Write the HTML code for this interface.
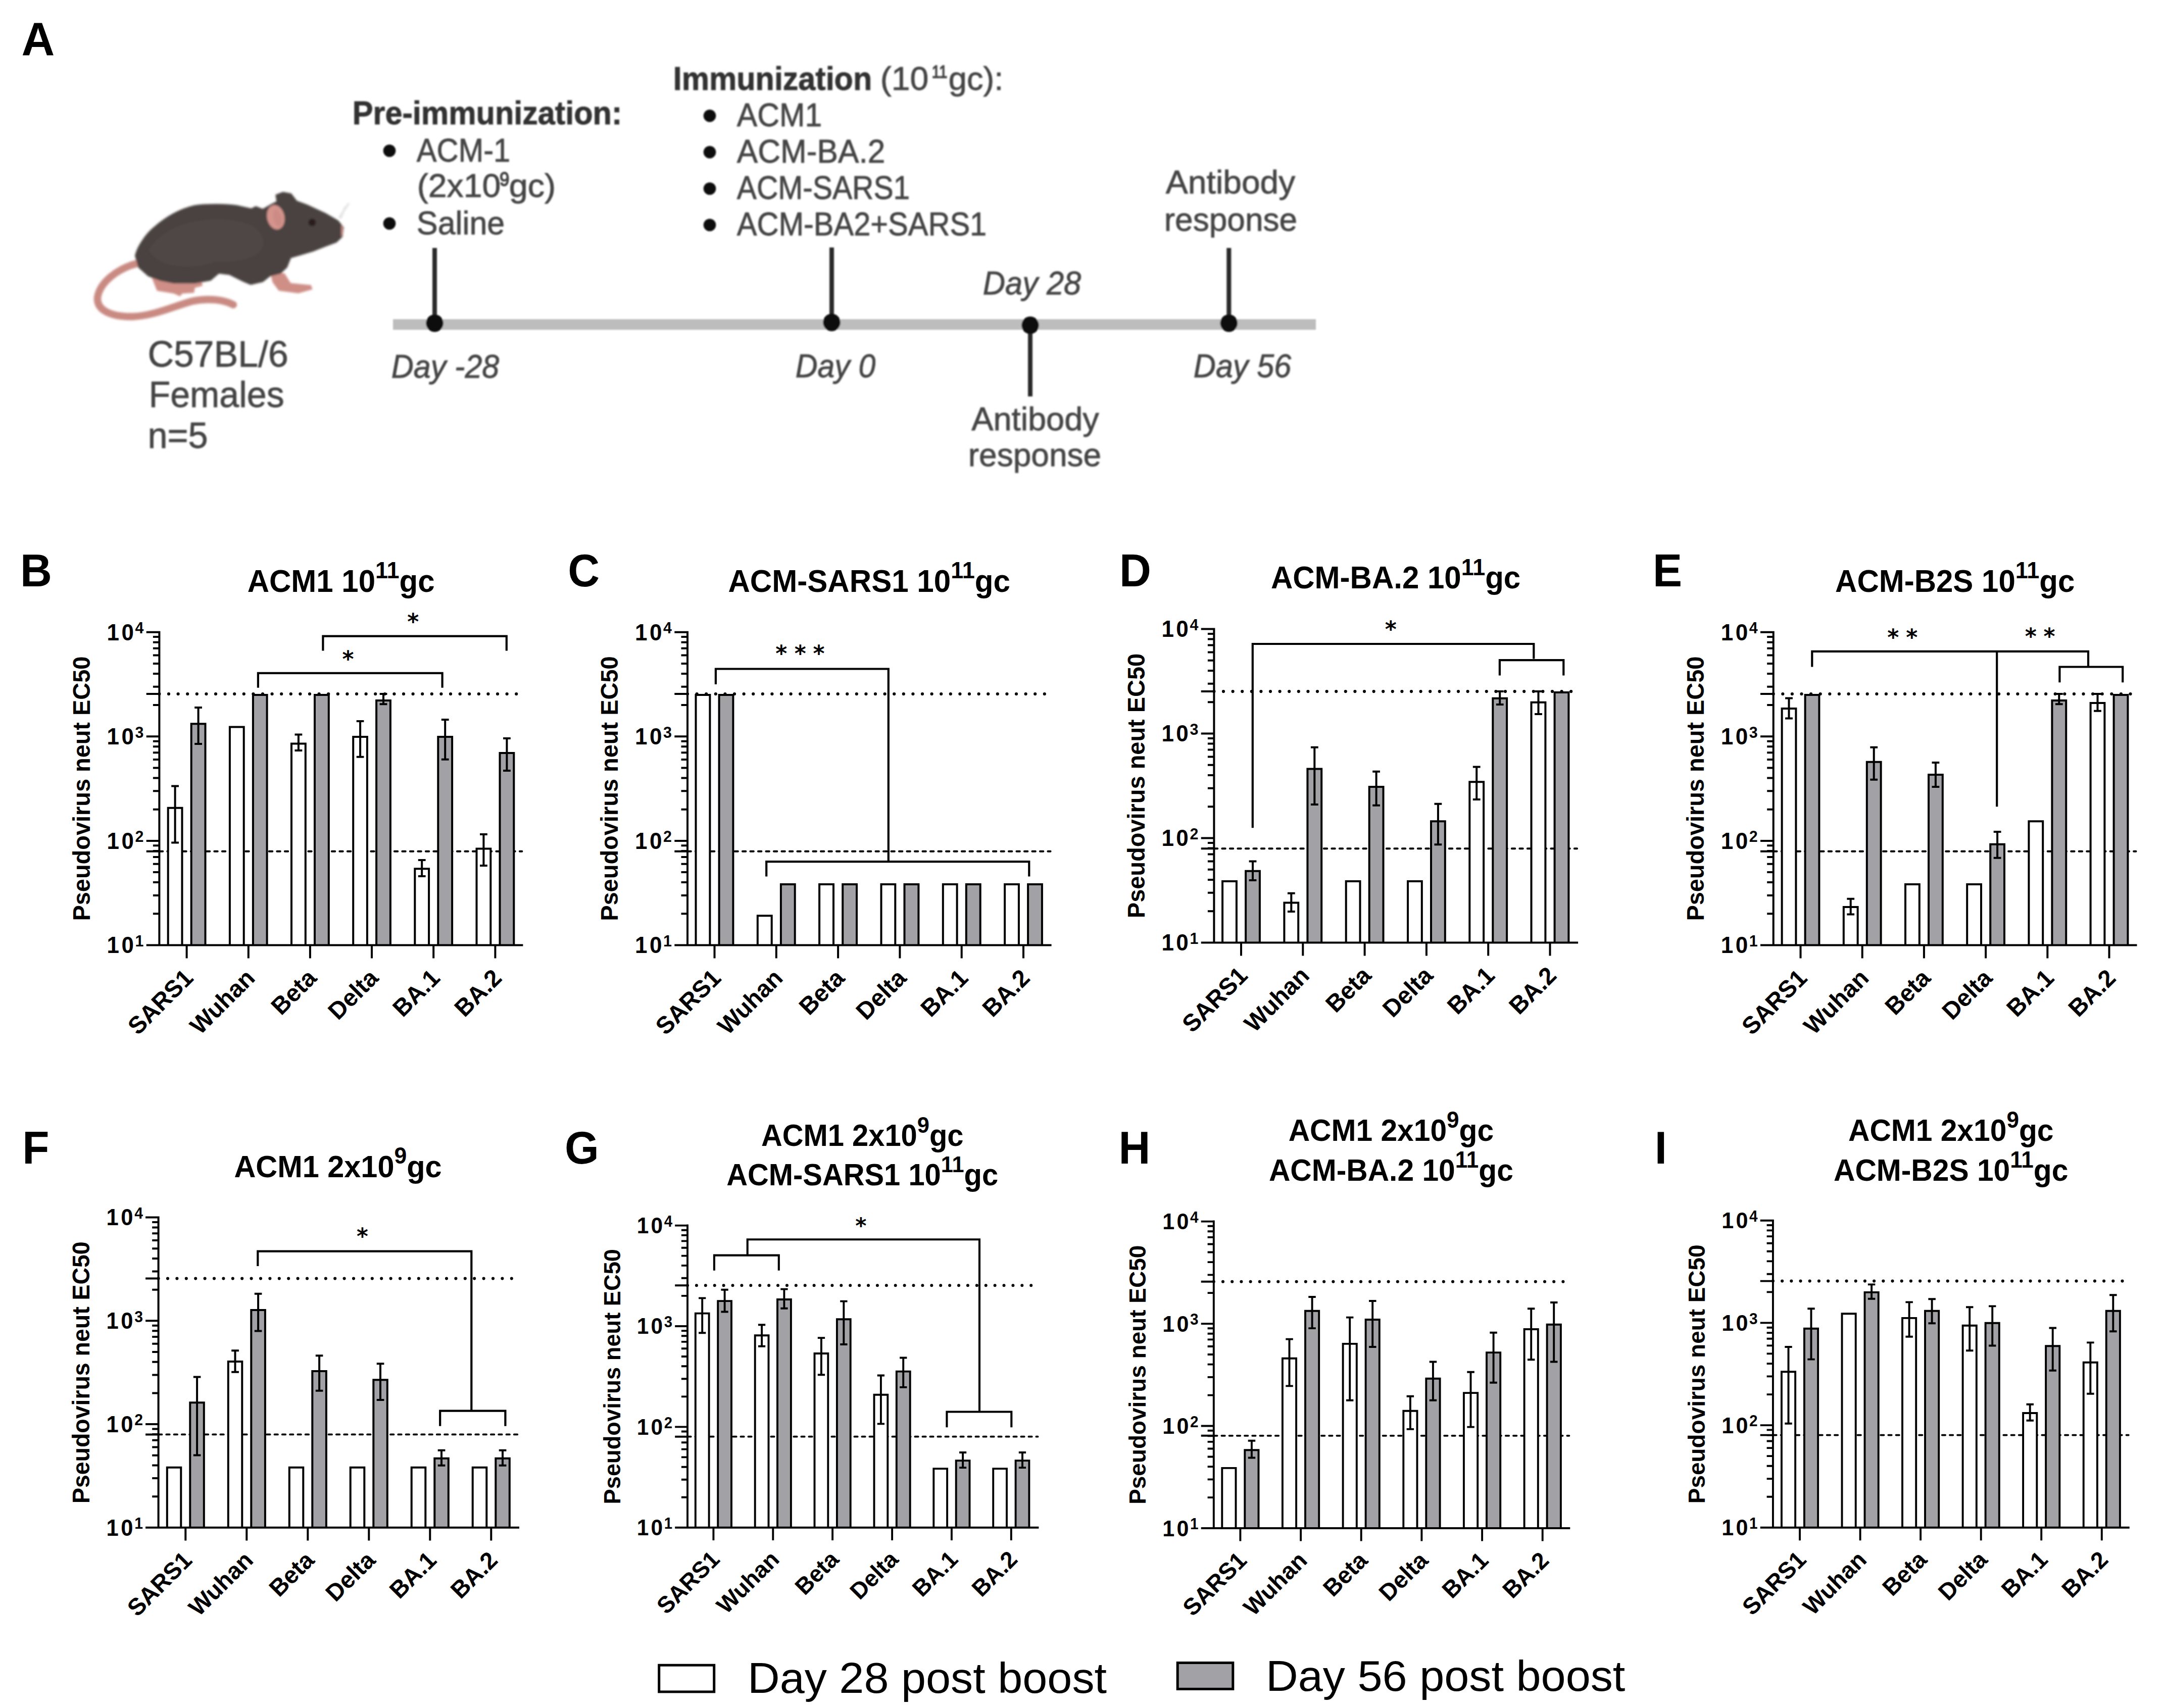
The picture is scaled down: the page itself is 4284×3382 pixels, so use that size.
<!DOCTYPE html>
<html><head><meta charset="utf-8"><title>Figure</title>
<style>html,body{margin:0;padding:0;background:#fff}svg{display:block}</style>
</head><body>
<svg width="4284" height="3382" viewBox="0 0 4284 3382" font-family="'Liberation Sans', Arial, Helvetica, sans-serif" fill="#000">
<rect width="4284" height="3382" fill="#fff"/>
<defs>
<filter id="blur1" x="-5%" y="-5%" width="110%" height="110%"><feGaussianBlur stdDeviation="7"/></filter>
<filter id="blur2" x="-5%" y="-20%" width="110%" height="140%"><feGaussianBlur stdDeviation="1.4"/></filter>
</defs>
<text transform="translate(42.5 109.3) scale(0.99 1)" font-size="92" font-weight="bold">A</text>
<!-- mouse -->
<g transform="translate(150 340) scale(0.27724)" filter="url(#blur1)">
<path d="M440 655 C300 690 170 790 155 900 C150 990 250 1035 400 1035 C560 1030 700 960 830 925 C950 900 1060 915 1125 950" fill="none" stroke="#c98a82" stroke-width="52" stroke-linecap="round"/>
<path d="M540 750 L900 780 L905 815 L850 830 L845 865 L760 870 L745 890 L700 870 L580 850 Z" fill="#cf8f87"/>
<path d="M1390 725 L1490 725 L1535 795 L1680 810 L1690 840 L1590 868 L1450 850 L1405 790 Z" fill="#cf8f87"/>
<path d="M428 600 C440 540 500 450 560 400 C640 330 740 270 850 245 C950 232 1080 235 1150 245 L1255 268 L1285 252 L1335 272 L1400 235 L1440 215 L1432 168 L1480 150 L1535 160 L1575 212 L1650 240 L1780 300 L1870 352 L1908 400 L1900 462 L1860 500 L1780 530 L1700 562 L1600 592 L1532 612 L1505 680 L1462 722 L1385 742 L1335 782 L1250 802 L1200 782 L1100 732 L1020 722 L962 772 L850 792 L700 792 L600 772 L520 742 L452 682 Z" fill="#4a4240" stroke="#4a4240" stroke-width="12" stroke-linejoin="round"/>
<path d="M520 560 C600 420 800 330 1050 340 C1250 350 1350 420 1340 520 C1320 620 1150 650 1000 640 C850 700 600 700 520 560Z" fill="#504744"/>
<ellipse cx="1428" cy="325" rx="62" ry="88" transform="rotate(-12 1428 325)" fill="#d4948d"/>
<ellipse cx="1440" cy="330" rx="30" ry="62" transform="rotate(-12 1440 330)" fill="#cc8c85"/>
<circle cx="1688" cy="362" r="27" fill="#2b1c1c"/>
<path d="M1895 380 C1915 395 1915 440 1895 470 Z" fill="#c98a82"/>
<path d="M1880 330 L1950 225 M1890 335 L1925 250" stroke="#e4e2e2" stroke-width="14" fill="none"/>
</g>

<g fill="#454545" stroke="#454545" stroke-width="0.9" filter="url(#blur2)">
<text x="292.4" y="726" font-size="73" textLength="278.3" lengthAdjust="spacingAndGlyphs">C57BL/6</text>
<text x="294.4" y="806" font-size="73" textLength="268.3" lengthAdjust="spacingAndGlyphs">Females</text>
<text x="292.4" y="886.5" font-size="73" textLength="119.3" lengthAdjust="spacingAndGlyphs">n=5</text>
</g>
<g filter="url(#blur2)">
<rect x="778" y="632" width="1827" height="21" fill="#bdbdbd"/>
<path d="M860.5 491V640M1646.5 490V638M2039.5 644V785M2432.8 491V640" stroke="#2a2a2a" stroke-width="9" fill="none"/>
<g fill="#0a0a0a">
<circle cx="860.5" cy="640" r="17.3"/><circle cx="1646.5" cy="638.5" r="17.3"/><circle cx="2039.5" cy="644" r="17.3"/><circle cx="2432.8" cy="640" r="17.3"/>
<circle cx="771" cy="298.5" r="12.3"/><circle cx="771" cy="442.5" r="12.3"/>
<circle cx="1405" cy="229.2" r="12.3"/><circle cx="1405" cy="301.3" r="12.3"/><circle cx="1405" cy="373.5" r="12.3"/><circle cx="1405" cy="445.5" r="12.3"/>
</g>
</g>
<g fill="#454545" stroke="#454545" stroke-width="0.9" filter="url(#blur2)">
<text x="697.8" y="246" font-size="64.5" textLength="533.5" lengthAdjust="spacingAndGlyphs" font-weight="bold" fill="#303030" stroke="#303030">Pre-immunization:</text>
<text x="824.8" y="320" font-size="64.5" textLength="185.4" lengthAdjust="spacingAndGlyphs">ACM-1</text>
<text x="825.8" y="389.5" font-size="64.5" textLength="165.4" lengthAdjust="spacingAndGlyphs">(2x10</text>
<text x="989.1" y="367.5" font-size="38" textLength="19.3" lengthAdjust="spacingAndGlyphs" stroke-width="1.8">9</text>
<text x="1007.8" y="389.5" font-size="64.5" textLength="92.5" lengthAdjust="spacingAndGlyphs">gc)</text>
<text x="824.8" y="463.5" font-size="64.5" textLength="174.4" lengthAdjust="spacingAndGlyphs">Saline</text>
<text x="1332.8" y="178" font-size="64.5" textLength="393.4" lengthAdjust="spacingAndGlyphs" font-weight="bold" fill="#303030" stroke="#303030">Immunization</text>
<text x="1742.8" y="178" font-size="64.5" textLength="95.5" lengthAdjust="spacingAndGlyphs">(10</text>
<text x="1844.8" y="154" font-size="35" textLength="30.5" lengthAdjust="spacingAndGlyphs" stroke-width="1.8">11</text>
<text x="1877.8" y="178" font-size="64.5" textLength="108.5" lengthAdjust="spacingAndGlyphs">gc):</text>
<text x="1458.8" y="249.7" font-size="64.5" textLength="168.4" lengthAdjust="spacingAndGlyphs">ACM1</text>
<text x="1458.8" y="321.5" font-size="64.5" textLength="293.4" lengthAdjust="spacingAndGlyphs">ACM-BA.2</text>
<text x="1458.8" y="393.5" font-size="64.5" textLength="342.4" lengthAdjust="spacingAndGlyphs">ACM-SARS1</text>
<text x="1458.8" y="466" font-size="64.5" textLength="494.4" lengthAdjust="spacingAndGlyphs">ACM-BA2+SARS1</text>
<text x="2307.8" y="383" font-size="64.5" textLength="256.4" lengthAdjust="spacingAndGlyphs">Antibody</text>
<text x="2304.8" y="457" font-size="64.5" textLength="263.4" lengthAdjust="spacingAndGlyphs">response</text>
<text x="1923.3" y="852" font-size="64.5" textLength="252.4" lengthAdjust="spacingAndGlyphs">Antibody</text>
<text x="1916.8" y="923" font-size="64.5" textLength="263.4" lengthAdjust="spacingAndGlyphs">response</text>
<text x="774.8" y="748" font-size="64.5" textLength="213.4" lengthAdjust="spacingAndGlyphs" font-style="italic">Day -28</text>
<text x="1574.8" y="747" font-size="64.5" textLength="158.4" lengthAdjust="spacingAndGlyphs" font-style="italic">Day 0</text>
<text x="1945.8" y="583" font-size="64.5" textLength="194.4" lengthAdjust="spacingAndGlyphs" font-style="italic">Day 28</text>
<text x="2362.8" y="747" font-size="64.5" textLength="193.4" lengthAdjust="spacingAndGlyphs" font-style="italic">Day 56</text>
</g>
<g font-weight="bold">
<line x1="315.4" y1="1374" x2="1035.4" y2="1374" stroke="#000" stroke-width="6.2" stroke-linecap="round" stroke-dasharray="0 18.6"/>
<line x1="315.8" y1="1685.8" x2="1033.4" y2="1685.8" stroke="#000" stroke-width="3.9" stroke-linecap="round" stroke-dasharray="6.5 9"/>
<path d="M332.7 1871.4V1599.8H360.5V1871.4" fill="#fff" stroke="#000" stroke-width="4"/>
<path d="M378.7 1871.4V1433.2H406.5V1871.4" fill="#a2a1a6" stroke="#000" stroke-width="4"/>
<path d="M454.9 1871.4V1439.4H482.7V1871.4" fill="#fff" stroke="#000" stroke-width="4"/>
<path d="M500.9 1871.4V1376H528.6V1871.4" fill="#a2a1a6" stroke="#000" stroke-width="4"/>
<path d="M577 1871.4V1472.6H604.8V1871.4" fill="#fff" stroke="#000" stroke-width="4"/>
<path d="M623 1871.4V1376H650.8V1871.4" fill="#a2a1a6" stroke="#000" stroke-width="4"/>
<path d="M699.2 1871.4V1459H726.9V1871.4" fill="#fff" stroke="#000" stroke-width="4"/>
<path d="M745.1 1871.4V1387.1H772.9V1871.4" fill="#a2a1a6" stroke="#000" stroke-width="4"/>
<path d="M821.3 1871.4V1720.3H849.1V1871.4" fill="#fff" stroke="#000" stroke-width="4"/>
<path d="M867.3 1871.4V1459H895.1V1871.4" fill="#a2a1a6" stroke="#000" stroke-width="4"/>
<path d="M943.5 1871.4V1680.4H971.3V1871.4" fill="#fff" stroke="#000" stroke-width="4"/>
<path d="M989.5 1871.4V1491H1017.3V1871.4" fill="#a2a1a6" stroke="#000" stroke-width="4"/>
<path d="M346.6 1556.6V1668.5M339.2 1556.6H354M339.2 1668.5H354" fill="none" stroke="#000" stroke-width="4"/>
<path d="M392.6 1401.1V1473M385.2 1401.1H400M385.2 1473H400" fill="none" stroke="#000" stroke-width="4"/>
<path d="M590.9 1454.6V1485.9M583.5 1454.6H598.3M583.5 1485.9H598.3" fill="none" stroke="#000" stroke-width="4"/>
<path d="M713.1 1428.1V1498.8M705.7 1428.1H720.4M705.7 1498.8H720.4" fill="none" stroke="#000" stroke-width="4"/>
<path d="M759 1374V1394.3M751.6 1374H766.4M751.6 1394.3H766.4" fill="none" stroke="#000" stroke-width="4"/>
<path d="M835.2 1703V1734.9M827.8 1703H842.6M827.8 1734.9H842.6" fill="none" stroke="#000" stroke-width="4"/>
<path d="M881.2 1425.1V1503.8M873.8 1425.1H888.6M873.8 1503.8H888.6" fill="none" stroke="#000" stroke-width="4"/>
<path d="M957.4 1651.9V1714M950 1651.9H964.8M950 1714H964.8" fill="none" stroke="#000" stroke-width="4"/>
<path d="M1003.4 1462V1525.9M996 1462H1010.8M996 1525.9H1010.8" fill="none" stroke="#000" stroke-width="4"/>
<path d="M315.4 1249.7V1871.4M289.7 1871.4H1035.4M302.9 1809.3H315.4M302.9 1772.9H315.4M302.9 1747.1H315.4M302.9 1727H315.4M302.9 1710.7H315.4M302.9 1696.9H315.4M302.9 1684.9H315.4M302.9 1674.3H315.4M289.7 1664.9H315.4M302.9 1602.7H315.4M302.9 1566.3H315.4M302.9 1540.5H315.4M302.9 1520.5H315.4M302.9 1504.1H315.4M302.9 1490.3H315.4M302.9 1478.3H315.4M302.9 1467.7H315.4M289.7 1458.3H315.4M302.9 1396.1H315.4M302.9 1359.7H315.4M302.9 1333.9H315.4M302.9 1313.9H315.4M302.9 1297.5H315.4M302.9 1283.7H315.4M302.9 1271.7H315.4M302.9 1261.1H315.4M289.7 1251.7H315.4M289.7 1374H315.4M289.7 1685.8H315.4M369.6 1871.4V1897.4M491.8 1871.4V1897.4M613.9 1871.4V1897.4M736 1871.4V1897.4M858.2 1871.4V1897.4M980.4 1871.4V1897.4" fill="none" stroke="#000" stroke-width="4"/>
<text transform="translate(284.4 1887.2) scale(0.9615 1)" font-size="45.7" text-anchor="end"><tspan letter-spacing="4.6">1</tspan>0<tspan font-size="31.6" dx="2.8" dy="-13.5">1</tspan></text>
<text transform="translate(284.4 1680.6) scale(0.9615 1)" font-size="45.7" text-anchor="end"><tspan letter-spacing="4.6">1</tspan>0<tspan font-size="31.6" dx="2.8" dy="-13.5">2</tspan></text>
<text transform="translate(284.4 1474.1) scale(0.9615 1)" font-size="45.7" text-anchor="end"><tspan letter-spacing="4.6">1</tspan>0<tspan font-size="31.6" dx="2.8" dy="-13.5">3</tspan></text>
<text transform="translate(284.4 1267.5) scale(0.9615 1)" font-size="45.7" text-anchor="end"><tspan letter-spacing="4.6">1</tspan>0<tspan font-size="31.6" dx="2.8" dy="-13.5">4</tspan></text>
<text transform="translate(177.8 1561.6) rotate(-90)" font-size="47.8" text-anchor="middle" textLength="523.8" lengthAdjust="spacingAndGlyphs">Pseudovirus neut EC50</text>
<text transform="translate(385.2 1939.4) rotate(-45) scale(0.9950 1)" font-size="47.8" text-anchor="end">SARS1</text>
<text transform="translate(507.4 1939.4) rotate(-45) scale(0.9950 1)" font-size="47.8" text-anchor="end">Wuhan</text>
<text transform="translate(629.5 1939.4) rotate(-45) scale(0.9950 1)" font-size="47.8" text-anchor="end">Beta</text>
<text transform="translate(751.6 1939.4) rotate(-45) scale(0.9950 1)" font-size="47.8" text-anchor="end">Delta</text>
<text transform="translate(873.8 1939.4) rotate(-45) scale(0.9950 1)" font-size="47.8" text-anchor="end">BA.1</text>
<text transform="translate(996 1939.4) rotate(-45) scale(0.9950 1)" font-size="47.8" text-anchor="end">BA.2</text>
<path d="M510.9 1361.7 L510.9 1332.8 L875.6 1332.8 L875.6 1361.7" fill="none" stroke="#000" stroke-width="4.2" stroke-linejoin="miter"/>
<path d="M639.4 1288.6 L639.4 1259.7 L1002.8 1259.7 L1002.8 1288.6" fill="none" stroke="#000" stroke-width="4.2" stroke-linejoin="miter"/>
<text x="688.9" y="1319.8" font-size="44" text-anchor="middle" font-family="'DejaVu Sans', sans-serif">*</text>
<text x="817.8" y="1245.7" font-size="44" text-anchor="middle" font-family="'DejaVu Sans', sans-serif">*</text>
<text transform="translate(675.1 1171.5) scale(0.9615 1)" font-size="62.4" text-anchor="middle">ACM1 10<tspan font-size="75%" dy="-0.57em">11</tspan><tspan dy="0.4275em">gc</tspan></text>
<text transform="translate(40 1161) scale(0.9615 1)" font-size="90.5">B</text>
</g>
<g font-weight="bold">
<line x1="1361" y1="1374" x2="2081.6" y2="1374" stroke="#000" stroke-width="6.2" stroke-linecap="round" stroke-dasharray="0 18.6"/>
<line x1="1361.4" y1="1685.8" x2="2079.6" y2="1685.8" stroke="#000" stroke-width="3.9" stroke-linecap="round" stroke-dasharray="6.5 9"/>
<path d="M1377.5 1871.4V1376H1405.4V1871.4" fill="#fff" stroke="#000" stroke-width="4"/>
<path d="M1423.6 1871.4V1376H1451.4V1871.4" fill="#a2a1a6" stroke="#000" stroke-width="4"/>
<path d="M1499.8 1871.4V1813.2H1527.7V1871.4" fill="#fff" stroke="#000" stroke-width="4"/>
<path d="M1545.9 1871.4V1751.1H1573.7V1871.4" fill="#a2a1a6" stroke="#000" stroke-width="4"/>
<path d="M1622.1 1871.4V1751.1H1650V1871.4" fill="#fff" stroke="#000" stroke-width="4"/>
<path d="M1668.2 1871.4V1751.1H1696V1871.4" fill="#a2a1a6" stroke="#000" stroke-width="4"/>
<path d="M1744.5 1871.4V1751.1H1772.3V1871.4" fill="#fff" stroke="#000" stroke-width="4"/>
<path d="M1790.5 1871.4V1751.1H1818.4V1871.4" fill="#a2a1a6" stroke="#000" stroke-width="4"/>
<path d="M1866.8 1871.4V1751.1H1894.6V1871.4" fill="#fff" stroke="#000" stroke-width="4"/>
<path d="M1912.8 1871.4V1751.1H1940.7V1871.4" fill="#a2a1a6" stroke="#000" stroke-width="4"/>
<path d="M1989.1 1871.4V1751.1H2016.9V1871.4" fill="#fff" stroke="#000" stroke-width="4"/>
<path d="M2035.1 1871.4V1751.1H2062.9V1871.4" fill="#a2a1a6" stroke="#000" stroke-width="4"/>
<path d="M1361 1249.7V1871.4M1335.3 1871.4H2081.6M1348.5 1809.3H1361M1348.5 1772.9H1361M1348.5 1747.1H1361M1348.5 1727H1361M1348.5 1710.7H1361M1348.5 1696.9H1361M1348.5 1684.9H1361M1348.5 1674.3H1361M1335.3 1664.9H1361M1348.5 1602.7H1361M1348.5 1566.3H1361M1348.5 1540.5H1361M1348.5 1520.5H1361M1348.5 1504.1H1361M1348.5 1490.3H1361M1348.5 1478.3H1361M1348.5 1467.7H1361M1335.3 1458.3H1361M1348.5 1396.1H1361M1348.5 1359.7H1361M1348.5 1333.9H1361M1348.5 1313.9H1361M1348.5 1297.5H1361M1348.5 1283.7H1361M1348.5 1271.7H1361M1348.5 1261.1H1361M1335.3 1251.7H1361M1335.3 1374H1361M1335.3 1685.8H1361M1414.5 1871.4V1897.5M1536.8 1871.4V1897.5M1659.1 1871.4V1897.5M1781.4 1871.4V1897.5M1903.7 1871.4V1897.5M2026 1871.4V1897.5" fill="none" stroke="#000" stroke-width="4"/>
<text transform="translate(1330 1887.3) scale(0.9615 1)" font-size="45.8" text-anchor="end"><tspan letter-spacing="4.6">1</tspan>0<tspan font-size="31.6" dx="2.8" dy="-13.5">1</tspan></text>
<text transform="translate(1330 1680.7) scale(0.9615 1)" font-size="45.8" text-anchor="end"><tspan letter-spacing="4.6">1</tspan>0<tspan font-size="31.6" dx="2.8" dy="-13.5">2</tspan></text>
<text transform="translate(1330 1474.1) scale(0.9615 1)" font-size="45.8" text-anchor="end"><tspan letter-spacing="4.6">1</tspan>0<tspan font-size="31.6" dx="2.8" dy="-13.5">3</tspan></text>
<text transform="translate(1330 1267.5) scale(0.9615 1)" font-size="45.8" text-anchor="end"><tspan letter-spacing="4.6">1</tspan>0<tspan font-size="31.6" dx="2.8" dy="-13.5">4</tspan></text>
<text transform="translate(1223.2 1561.6) rotate(-90)" font-size="47.9" text-anchor="middle" textLength="524.5" lengthAdjust="spacingAndGlyphs">Pseudovirus neut EC50</text>
<text transform="translate(1430.1 1939.5) rotate(-45) scale(0.9950 1)" font-size="47.9" text-anchor="end">SARS1</text>
<text transform="translate(1552.4 1939.5) rotate(-45) scale(0.9950 1)" font-size="47.9" text-anchor="end">Wuhan</text>
<text transform="translate(1674.7 1939.5) rotate(-45) scale(0.9950 1)" font-size="47.9" text-anchor="end">Beta</text>
<text transform="translate(1797 1939.5) rotate(-45) scale(0.9950 1)" font-size="47.9" text-anchor="end">Delta</text>
<text transform="translate(1919.3 1939.5) rotate(-45) scale(0.9950 1)" font-size="47.9" text-anchor="end">BA.1</text>
<text transform="translate(2041.6 1939.5) rotate(-45) scale(0.9950 1)" font-size="47.9" text-anchor="end">BA.2</text>
<path d="M1416.9 1355 L1416.9 1324.5 L1758.8 1324.5 L1758.8 1706.1M1517.2 1735.6 L1517.2 1706.1 L2037.3 1706.1 L2037.3 1735.6" fill="none" stroke="#000" stroke-width="4.2" stroke-linejoin="miter"/>
<text x="1546.7" y="1309.4" font-size="44" text-anchor="middle" font-family="'DejaVu Sans', sans-serif">*</text>
<text x="1584.2" y="1309.4" font-size="44" text-anchor="middle" font-family="'DejaVu Sans', sans-serif">*</text>
<text x="1621.1" y="1309.4" font-size="44" text-anchor="middle" font-family="'DejaVu Sans', sans-serif">*</text>
<text transform="translate(1720.7 1171.5) scale(0.9615 1)" font-size="62.5" text-anchor="middle">ACM-SARS1 10<tspan font-size="75%" dy="-0.57em">11</tspan><tspan dy="0.4275em">gc</tspan></text>
<text transform="translate(1124.3 1161) scale(0.9615 1)" font-size="90.5">C</text>
</g>
<g font-weight="bold">
<line x1="2403.4" y1="1369.1" x2="3124.1" y2="1369.1" stroke="#000" stroke-width="6.2" stroke-linecap="round" stroke-dasharray="0 18.6"/>
<line x1="2403.8" y1="1680.2" x2="3122.1" y2="1680.2" stroke="#000" stroke-width="3.9" stroke-linecap="round" stroke-dasharray="6.5 9"/>
<path d="M2420.1 1866.5V1744.9H2447.9V1866.5" fill="#fff" stroke="#000" stroke-width="4"/>
<path d="M2466.1 1866.5V1724.7H2493.9V1866.5" fill="#a2a1a6" stroke="#000" stroke-width="4"/>
<path d="M2542.4 1866.5V1787.4H2570.2V1866.5" fill="#fff" stroke="#000" stroke-width="4"/>
<path d="M2588.4 1866.5V1522.4H2616.2V1866.5" fill="#a2a1a6" stroke="#000" stroke-width="4"/>
<path d="M2664.7 1866.5V1744.9H2692.5V1866.5" fill="#fff" stroke="#000" stroke-width="4"/>
<path d="M2710.7 1866.5V1558H2738.5V1866.5" fill="#a2a1a6" stroke="#000" stroke-width="4"/>
<path d="M2787 1866.5V1744.9H2814.8V1866.5" fill="#fff" stroke="#000" stroke-width="4"/>
<path d="M2833 1866.5V1626.3H2860.8V1866.5" fill="#a2a1a6" stroke="#000" stroke-width="4"/>
<path d="M2909.3 1866.5V1548.2H2937.1V1866.5" fill="#fff" stroke="#000" stroke-width="4"/>
<path d="M2955.3 1866.5V1382.8H2983.1V1866.5" fill="#a2a1a6" stroke="#000" stroke-width="4"/>
<path d="M3031.5 1866.5V1390.8H3059.4V1866.5" fill="#fff" stroke="#000" stroke-width="4"/>
<path d="M3077.6 1866.5V1371.1H3105.4V1866.5" fill="#a2a1a6" stroke="#000" stroke-width="4"/>
<path d="M2480 1705.4V1742.9M2472.6 1705.4H2487.4M2472.6 1742.9H2487.4" fill="none" stroke="#000" stroke-width="4"/>
<path d="M2556.3 1768.8V1805M2548.9 1768.8H2563.7M2548.9 1805H2563.7" fill="none" stroke="#000" stroke-width="4"/>
<path d="M2602.3 1479.8V1592.9M2594.9 1479.8H2609.7M2594.9 1592.9H2609.7" fill="none" stroke="#000" stroke-width="4"/>
<path d="M2724.6 1527.7V1594.8M2717.2 1527.7H2732M2717.2 1594.8H2732" fill="none" stroke="#000" stroke-width="4"/>
<path d="M2846.9 1591.7V1672.2M2839.5 1591.7H2854.3M2839.5 1672.2H2854.3" fill="none" stroke="#000" stroke-width="4"/>
<path d="M2923.2 1518.5V1583.1M2915.8 1518.5H2930.6M2915.8 1583.1H2930.6" fill="none" stroke="#000" stroke-width="4"/>
<path d="M2969.2 1369.1V1394.9M2961.8 1369.1H2976.6M2961.8 1394.9H2976.6" fill="none" stroke="#000" stroke-width="4"/>
<path d="M3045.5 1369.1V1414M3038.1 1369.1H3052.9M3038.1 1414H3052.9" fill="none" stroke="#000" stroke-width="4"/>
<path d="M2403.4 1243.5V1866.5M2377.7 1866.5H3124.1M2390.9 1804.2H2403.4M2390.9 1767.8H2403.4M2390.9 1741.9H2403.4M2390.9 1721.8H2403.4M2390.9 1705.4H2403.4M2390.9 1691.6H2403.4M2390.9 1679.6H2403.4M2390.9 1669H2403.4M2377.7 1659.5H2403.4M2390.9 1597.2H2403.4M2390.9 1560.8H2403.4M2390.9 1534.9H2403.4M2390.9 1514.8H2403.4M2390.9 1498.4H2403.4M2390.9 1484.6H2403.4M2390.9 1472.6H2403.4M2390.9 1462H2403.4M2377.7 1452.5H2403.4M2390.9 1390.2H2403.4M2390.9 1353.8H2403.4M2390.9 1327.9H2403.4M2390.9 1307.8H2403.4M2390.9 1291.4H2403.4M2390.9 1277.6H2403.4M2390.9 1265.6H2403.4M2390.9 1255H2403.4M2377.7 1245.5H2403.4M2377.7 1369.1H2403.4M2377.7 1680.2H2403.4M2457 1866.5V1892.5M2579.3 1866.5V1892.5M2701.6 1866.5V1892.5M2823.9 1866.5V1892.5M2946.2 1866.5V1892.5M3068.5 1866.5V1892.5" fill="none" stroke="#000" stroke-width="4"/>
<text transform="translate(2372.4 1882.3) scale(0.9615 1)" font-size="45.8" text-anchor="end"><tspan letter-spacing="4.6">1</tspan>0<tspan font-size="31.6" dx="2.8" dy="-13.5">1</tspan></text>
<text transform="translate(2372.4 1675.3) scale(0.9615 1)" font-size="45.8" text-anchor="end"><tspan letter-spacing="4.6">1</tspan>0<tspan font-size="31.6" dx="2.8" dy="-13.5">2</tspan></text>
<text transform="translate(2372.4 1468.3) scale(0.9615 1)" font-size="45.8" text-anchor="end"><tspan letter-spacing="4.6">1</tspan>0<tspan font-size="31.6" dx="2.8" dy="-13.5">3</tspan></text>
<text transform="translate(2372.4 1261.3) scale(0.9615 1)" font-size="45.8" text-anchor="end"><tspan letter-spacing="4.6">1</tspan>0<tspan font-size="31.6" dx="2.8" dy="-13.5">4</tspan></text>
<text transform="translate(2265.6 1556) rotate(-90)" font-size="47.9" text-anchor="middle" textLength="524.4" lengthAdjust="spacingAndGlyphs">Pseudovirus neut EC50</text>
<text transform="translate(2472.6 1934.6) rotate(-45) scale(0.9950 1)" font-size="47.9" text-anchor="end">SARS1</text>
<text transform="translate(2594.9 1934.6) rotate(-45) scale(0.9950 1)" font-size="47.9" text-anchor="end">Wuhan</text>
<text transform="translate(2717.2 1934.6) rotate(-45) scale(0.9950 1)" font-size="47.9" text-anchor="end">Beta</text>
<text transform="translate(2839.5 1934.6) rotate(-45) scale(0.9950 1)" font-size="47.9" text-anchor="end">Delta</text>
<text transform="translate(2961.8 1934.6) rotate(-45) scale(0.9950 1)" font-size="47.9" text-anchor="end">BA.1</text>
<text transform="translate(3084.1 1934.6) rotate(-45) scale(0.9950 1)" font-size="47.9" text-anchor="end">BA.2</text>
<path d="M2479.8 1639.3 L2479.8 1275 L3036.3 1275 L3036.3 1304.5M2968.9 1337.5 L2968.9 1307.2 L3095.3 1307.2 L3095.3 1337.5" fill="none" stroke="#000" stroke-width="4.2" stroke-linejoin="miter"/>
<text x="2753.3" y="1260.8" font-size="44" text-anchor="middle" font-family="'DejaVu Sans', sans-serif">*</text>
<text transform="translate(2763.1 1165.3) scale(0.9615 1)" font-size="62.4" text-anchor="middle">ACM-BA.2 10<tspan font-size="75%" dy="-0.57em">11</tspan><tspan dy="0.4275em">gc</tspan></text>
<text transform="translate(2215.9 1161) scale(0.9615 1)" font-size="90.5">D</text>
</g>
<g font-weight="bold">
<line x1="3510.7" y1="1374" x2="4230.5" y2="1374" stroke="#000" stroke-width="6.2" stroke-linecap="round" stroke-dasharray="0 18.6"/>
<line x1="3511.1" y1="1685.8" x2="4228.5" y2="1685.8" stroke="#000" stroke-width="3.9" stroke-linecap="round" stroke-dasharray="6.5 9"/>
<path d="M3527.6 1871.4V1403.1H3555.4V1871.4" fill="#fff" stroke="#000" stroke-width="4"/>
<path d="M3573.6 1871.4V1376H3601.4V1871.4" fill="#a2a1a6" stroke="#000" stroke-width="4"/>
<path d="M3649.8 1871.4V1796H3677.6V1871.4" fill="#fff" stroke="#000" stroke-width="4"/>
<path d="M3695.8 1871.4V1508.8H3723.6V1871.4" fill="#a2a1a6" stroke="#000" stroke-width="4"/>
<path d="M3772 1871.4V1751.1H3799.8V1871.4" fill="#fff" stroke="#000" stroke-width="4"/>
<path d="M3818 1871.4V1534H3845.8V1871.4" fill="#a2a1a6" stroke="#000" stroke-width="4"/>
<path d="M3894.2 1871.4V1751.1H3922V1871.4" fill="#fff" stroke="#000" stroke-width="4"/>
<path d="M3940.2 1871.4V1671.8H3968V1871.4" fill="#a2a1a6" stroke="#000" stroke-width="4"/>
<path d="M4016.4 1871.4V1626.3H4044.2V1871.4" fill="#fff" stroke="#000" stroke-width="4"/>
<path d="M4062.4 1871.4V1387.1H4090.2V1871.4" fill="#a2a1a6" stroke="#000" stroke-width="4"/>
<path d="M4138.6 1871.4V1392H4166.4V1871.4" fill="#fff" stroke="#000" stroke-width="4"/>
<path d="M4184.6 1871.4V1376H4212.4V1871.4" fill="#a2a1a6" stroke="#000" stroke-width="4"/>
<path d="M3541.5 1382.6V1422.6M3534.1 1382.6H3548.9M3534.1 1422.6H3548.9" fill="none" stroke="#000" stroke-width="4"/>
<path d="M3663.7 1779.8V1810.6M3656.3 1779.8H3671.1M3656.3 1810.6H3671.1" fill="none" stroke="#000" stroke-width="4"/>
<path d="M3709.7 1479.8V1543.7M3702.3 1479.8H3717.1M3702.3 1543.7H3717.1" fill="none" stroke="#000" stroke-width="4"/>
<path d="M3831.9 1509.9V1557.9M3824.5 1509.9H3839.3M3824.5 1557.9H3839.3" fill="none" stroke="#000" stroke-width="4"/>
<path d="M3954.1 1647V1698.7M3946.7 1647H3961.5M3946.7 1698.7H3961.5" fill="none" stroke="#000" stroke-width="4"/>
<path d="M4076.3 1374V1394.3M4068.9 1374H4083.7M4068.9 1394.3H4083.7" fill="none" stroke="#000" stroke-width="4"/>
<path d="M4152.5 1374V1407.8M4145.1 1374H4159.9M4145.1 1407.8H4159.9" fill="none" stroke="#000" stroke-width="4"/>
<path d="M3510.7 1249.7V1871.4M3485 1871.4H4230.5M3498.2 1809.3H3510.7M3498.2 1772.9H3510.7M3498.2 1747.1H3510.7M3498.2 1727H3510.7M3498.2 1710.7H3510.7M3498.2 1696.9H3510.7M3498.2 1684.9H3510.7M3498.2 1674.3H3510.7M3485 1664.9H3510.7M3498.2 1602.7H3510.7M3498.2 1566.3H3510.7M3498.2 1540.5H3510.7M3498.2 1520.5H3510.7M3498.2 1504.1H3510.7M3498.2 1490.3H3510.7M3498.2 1478.3H3510.7M3498.2 1467.7H3510.7M3485 1458.3H3510.7M3498.2 1396.1H3510.7M3498.2 1359.7H3510.7M3498.2 1333.9H3510.7M3498.2 1313.9H3510.7M3498.2 1297.5H3510.7M3498.2 1283.7H3510.7M3498.2 1271.7H3510.7M3498.2 1261.1H3510.7M3485 1251.7H3510.7M3485 1374H3510.7M3485 1685.8H3510.7M3564.5 1871.4V1897.4M3686.7 1871.4V1897.4M3808.9 1871.4V1897.4M3931.1 1871.4V1897.4M4053.3 1871.4V1897.4M4175.5 1871.4V1897.4" fill="none" stroke="#000" stroke-width="4"/>
<text transform="translate(3479.7 1887.2) scale(0.9615 1)" font-size="45.8" text-anchor="end"><tspan letter-spacing="4.6">1</tspan>0<tspan font-size="31.6" dx="2.8" dy="-13.5">1</tspan></text>
<text transform="translate(3479.7 1680.7) scale(0.9615 1)" font-size="45.8" text-anchor="end"><tspan letter-spacing="4.6">1</tspan>0<tspan font-size="31.6" dx="2.8" dy="-13.5">2</tspan></text>
<text transform="translate(3479.7 1474.1) scale(0.9615 1)" font-size="45.8" text-anchor="end"><tspan letter-spacing="4.6">1</tspan>0<tspan font-size="31.6" dx="2.8" dy="-13.5">3</tspan></text>
<text transform="translate(3479.7 1267.5) scale(0.9615 1)" font-size="45.8" text-anchor="end"><tspan letter-spacing="4.6">1</tspan>0<tspan font-size="31.6" dx="2.8" dy="-13.5">4</tspan></text>
<text transform="translate(3373 1561.6) rotate(-90)" font-size="47.8" text-anchor="middle" textLength="524" lengthAdjust="spacingAndGlyphs">Pseudovirus neut EC50</text>
<text transform="translate(3580.1 1939.5) rotate(-45) scale(0.9950 1)" font-size="47.8" text-anchor="end">SARS1</text>
<text transform="translate(3702.3 1939.5) rotate(-45) scale(0.9950 1)" font-size="47.8" text-anchor="end">Wuhan</text>
<text transform="translate(3824.5 1939.5) rotate(-45) scale(0.9950 1)" font-size="47.8" text-anchor="end">Beta</text>
<text transform="translate(3946.7 1939.5) rotate(-45) scale(0.9950 1)" font-size="47.8" text-anchor="end">Delta</text>
<text transform="translate(4068.9 1939.5) rotate(-45) scale(0.9950 1)" font-size="47.8" text-anchor="end">BA.1</text>
<text transform="translate(4191.1 1939.5) rotate(-45) scale(0.9950 1)" font-size="47.8" text-anchor="end">BA.2</text>
<path d="M3587.3 1320.5 L3587.3 1289.8 L4134 1289.8 L4134 1320.5M3953.2 1289.8 L3953.2 1597.2M4077.4 1351.3 L4077.4 1320.5 L4202.2 1320.5 L4202.2 1351.3" fill="none" stroke="#000" stroke-width="4.2" stroke-linejoin="miter"/>
<text x="3747.8" y="1276.5" font-size="44" text-anchor="middle" font-family="'DejaVu Sans', sans-serif">*</text>
<text x="3784.7" y="1276.5" font-size="44" text-anchor="middle" font-family="'DejaVu Sans', sans-serif">*</text>
<text x="4020.2" y="1275.3" font-size="44" text-anchor="middle" font-family="'DejaVu Sans', sans-serif">*</text>
<text x="4057.1" y="1275.3" font-size="44" text-anchor="middle" font-family="'DejaVu Sans', sans-serif">*</text>
<text transform="translate(3870.2 1171.5) scale(0.9615 1)" font-size="62.4" text-anchor="middle">ACM-B2S 10<tspan font-size="75%" dy="-0.57em">11</tspan><tspan dy="0.4275em">gc</tspan></text>
<text transform="translate(3271.9 1161) scale(0.9615 1)" font-size="90.5">E</text>
</g>
<g font-weight="bold">
<line x1="313.6" y1="2531.6" x2="1028" y2="2531.6" stroke="#000" stroke-width="6.1" stroke-linecap="round" stroke-dasharray="0 18.4"/>
<line x1="314" y1="2840.4" x2="1026.1" y2="2840.4" stroke="#000" stroke-width="3.9" stroke-linecap="round" stroke-dasharray="6.4 8.9"/>
<path d="M330.8 3024.8V2905.7H358.3V3024.8" fill="#fff" stroke="#000" stroke-width="4"/>
<path d="M376.3 3024.8V2777.2H403.8V3024.8" fill="#a2a1a6" stroke="#000" stroke-width="4"/>
<path d="M451.8 3024.8V2696H479.3V3024.8" fill="#fff" stroke="#000" stroke-width="4"/>
<path d="M497.3 3024.8V2593.9H524.9V3024.8" fill="#a2a1a6" stroke="#000" stroke-width="4"/>
<path d="M572.8 3024.8V2905.7H600.3V3024.8" fill="#fff" stroke="#000" stroke-width="4"/>
<path d="M618.3 3024.8V2715.1H645.9V3024.8" fill="#a2a1a6" stroke="#000" stroke-width="4"/>
<path d="M693.7 3024.8V2905.7H721.3V3024.8" fill="#fff" stroke="#000" stroke-width="4"/>
<path d="M739.3 3024.8V2732.3H766.8V3024.8" fill="#a2a1a6" stroke="#000" stroke-width="4"/>
<path d="M814.7 3024.8V2905.7H842.3V3024.8" fill="#fff" stroke="#000" stroke-width="4"/>
<path d="M860.3 3024.8V2887.8H887.8V3024.8" fill="#a2a1a6" stroke="#000" stroke-width="4"/>
<path d="M935.7 3024.8V2905.7H963.3V3024.8" fill="#fff" stroke="#000" stroke-width="4"/>
<path d="M981.3 3024.8V2887.8H1008.8V3024.8" fill="#a2a1a6" stroke="#000" stroke-width="4"/>
<path d="M390.1 2726.6V2881.5M382.8 2726.6H397.4M382.8 2881.5H397.4" fill="none" stroke="#000" stroke-width="4"/>
<path d="M465.5 2674.3V2716.8M458.2 2674.3H472.9M458.2 2716.8H472.9" fill="none" stroke="#000" stroke-width="4"/>
<path d="M511.1 2561.8V2635.6M503.8 2561.8H518.4M503.8 2635.6H518.4" fill="none" stroke="#000" stroke-width="4"/>
<path d="M632.1 2684.2V2753.7M624.8 2684.2H639.4M624.8 2753.7H639.4" fill="none" stroke="#000" stroke-width="4"/>
<path d="M753 2700.2V2772.1M745.7 2700.2H760.4M745.7 2772.1H760.4" fill="none" stroke="#000" stroke-width="4"/>
<path d="M874 2871.7V2901.8M866.7 2871.7H881.4M866.7 2901.8H881.4" fill="none" stroke="#000" stroke-width="4"/>
<path d="M995 2871.7V2901.8M987.7 2871.7H1002.4M987.7 2901.8H1002.4" fill="none" stroke="#000" stroke-width="4"/>
<path d="M313.6 2408.6V3024.8M288.1 3024.8H1028M301.2 2963.2H313.6M301.2 2927.1H313.6M301.2 2901.5H313.6M301.2 2881.7H313.6M301.2 2865.5H313.6M301.2 2851.8H313.6M301.2 2839.9H313.6M301.2 2829.4H313.6M288.1 2820.1H313.6M301.2 2758.4H313.6M301.2 2722.4H313.6M301.2 2696.8H313.6M301.2 2677H313.6M301.2 2660.7H313.6M301.2 2647H313.6M301.2 2635.2H313.6M301.2 2624.7H313.6M288.1 2615.3H313.6M301.2 2553.7H313.6M301.2 2517.6H313.6M301.2 2492H313.6M301.2 2472.2H313.6M301.2 2456H313.6M301.2 2442.3H313.6M301.2 2430.4H313.6M301.2 2419.9H313.6M288.1 2410.6H313.6M288.1 2531.6H313.6M288.1 2840.4H313.6M367.3 3024.8V3050.6M488.3 3024.8V3050.6M609.3 3024.8V3050.6M730.3 3024.8V3050.6M851.3 3024.8V3050.6M972.3 3024.8V3050.6" fill="none" stroke="#000" stroke-width="4"/>
<text transform="translate(282.9 3040.5) scale(0.9615 1)" font-size="45.3" text-anchor="end"><tspan letter-spacing="4.6">1</tspan>0<tspan font-size="31.3" dx="2.8" dy="-13.4">1</tspan></text>
<text transform="translate(282.9 2835.7) scale(0.9615 1)" font-size="45.3" text-anchor="end"><tspan letter-spacing="4.6">1</tspan>0<tspan font-size="31.3" dx="2.8" dy="-13.4">2</tspan></text>
<text transform="translate(282.9 2631) scale(0.9615 1)" font-size="45.3" text-anchor="end"><tspan letter-spacing="4.6">1</tspan>0<tspan font-size="31.3" dx="2.8" dy="-13.4">3</tspan></text>
<text transform="translate(282.9 2426.2) scale(0.9615 1)" font-size="45.3" text-anchor="end"><tspan letter-spacing="4.6">1</tspan>0<tspan font-size="31.3" dx="2.8" dy="-13.4">4</tspan></text>
<text transform="translate(177.2 2717.7) rotate(-90)" font-size="47.4" text-anchor="middle" textLength="518.8" lengthAdjust="spacingAndGlyphs">Pseudovirus neut EC50</text>
<text transform="translate(382.8 3092.1) rotate(-45) scale(0.9950 1)" font-size="47.4" text-anchor="end">SARS1</text>
<text transform="translate(503.8 3092.1) rotate(-45) scale(0.9950 1)" font-size="47.4" text-anchor="end">Wuhan</text>
<text transform="translate(624.8 3092.1) rotate(-45) scale(0.9950 1)" font-size="47.4" text-anchor="end">Beta</text>
<text transform="translate(745.7 3092.1) rotate(-45) scale(0.9950 1)" font-size="47.4" text-anchor="end">Delta</text>
<text transform="translate(866.7 3092.1) rotate(-45) scale(0.9950 1)" font-size="47.4" text-anchor="end">BA.1</text>
<text transform="translate(987.7 3092.1) rotate(-45) scale(0.9950 1)" font-size="47.4" text-anchor="end">BA.2</text>
<path d="M510.3 2507.1 L510.3 2477.6 L933.3 2477.6 L933.3 2793.6M871.2 2823.8 L871.2 2793.6 L1000.4 2793.6 L1000.4 2823.8" fill="none" stroke="#000" stroke-width="4.2" stroke-linejoin="miter"/>
<text x="717.5" y="2462.5" font-size="43.6" text-anchor="middle" font-family="'DejaVu Sans', sans-serif">*</text>
<text transform="translate(669 2330.8) scale(0.9615 1)" font-size="61.8" text-anchor="middle">ACM1 2x10<tspan font-size="75%" dy="-0.57em">9</tspan><tspan dy="0.4275em">gc</tspan></text>
<text transform="translate(44.2 2303.8) scale(0.9615 1)" font-size="90.5">F</text>
</g>
<g font-weight="bold">
<line x1="1361" y1="2545.2" x2="2056.4" y2="2545.2" stroke="#000" stroke-width="6" stroke-linecap="round" stroke-dasharray="0 17.9"/>
<line x1="1361.4" y1="2844.7" x2="2054.5" y2="2844.7" stroke="#000" stroke-width="3.8" stroke-linecap="round" stroke-dasharray="6.3 8.7"/>
<path d="M1376.8 3024.8V2600.6H1403.6V3024.8" fill="#fff" stroke="#000" stroke-width="3.9"/>
<path d="M1421.2 3024.8V2576.1H1448V3024.8" fill="#a2a1a6" stroke="#000" stroke-width="3.9"/>
<path d="M1494.7 3024.8V2644.3H1521.5V3024.8" fill="#fff" stroke="#000" stroke-width="3.9"/>
<path d="M1539 3024.8V2573H1565.9V3024.8" fill="#a2a1a6" stroke="#000" stroke-width="3.9"/>
<path d="M1612.5 3024.8V2680H1639.3V3024.8" fill="#fff" stroke="#000" stroke-width="3.9"/>
<path d="M1656.9 3024.8V2612.3H1683.7V3024.8" fill="#a2a1a6" stroke="#000" stroke-width="3.9"/>
<path d="M1730.5 3024.8V2761.7H1757.3V3024.8" fill="#fff" stroke="#000" stroke-width="3.9"/>
<path d="M1774.8 3024.8V2715.6H1801.7V3024.8" fill="#a2a1a6" stroke="#000" stroke-width="3.9"/>
<path d="M1848.3 3024.8V2908.1H1875.1V3024.8" fill="#fff" stroke="#000" stroke-width="3.9"/>
<path d="M1892.7 3024.8V2892.1H1919.5V3024.8" fill="#a2a1a6" stroke="#000" stroke-width="3.9"/>
<path d="M1966.2 3024.8V2908.1H1993V3024.8" fill="#fff" stroke="#000" stroke-width="3.9"/>
<path d="M2010.6 3024.8V2892.1H2037.4V3024.8" fill="#a2a1a6" stroke="#000" stroke-width="3.9"/>
<path d="M1390.2 2570.4V2639.3M1383.1 2570.4H1397.3M1383.1 2639.3H1397.3" fill="none" stroke="#000" stroke-width="3.9"/>
<path d="M1434.6 2553.8V2597.5M1427.4 2553.8H1441.7M1427.4 2597.5H1441.7" fill="none" stroke="#000" stroke-width="3.9"/>
<path d="M1508.1 2623.3V2665.7M1500.9 2623.3H1515.2M1500.9 2665.7H1515.2" fill="none" stroke="#000" stroke-width="3.9"/>
<path d="M1552.4 2552.6V2590.7M1545.3 2552.6H1559.6M1545.3 2590.7H1559.6" fill="none" stroke="#000" stroke-width="3.9"/>
<path d="M1625.9 2649.1V2722.3M1618.8 2649.1H1633.1M1618.8 2722.3H1633.1" fill="none" stroke="#000" stroke-width="3.9"/>
<path d="M1670.3 2576.6V2662M1663.2 2576.6H1677.5M1663.2 2662H1677.5" fill="none" stroke="#000" stroke-width="3.9"/>
<path d="M1743.9 2723.5V2819.4M1736.7 2723.5H1751M1736.7 2819.4H1751" fill="none" stroke="#000" stroke-width="3.9"/>
<path d="M1788.2 2688.5V2746.9M1781.1 2688.5H1795.4M1781.1 2746.9H1795.4" fill="none" stroke="#000" stroke-width="3.9"/>
<path d="M1906.1 2876V2906.1M1899 2876H1913.2M1899 2906.1H1913.2" fill="none" stroke="#000" stroke-width="3.9"/>
<path d="M2024 2876V2906.1M2016.8 2876H2031.1M2016.8 2906.1H2031.1" fill="none" stroke="#000" stroke-width="3.9"/>
<path d="M1361 2424.6V3024.8M1336.2 3024.8H2056.4M1348.9 2964.8H1361M1348.9 2929.7H1361M1348.9 2904.7H1361M1348.9 2885.4H1361M1348.9 2869.6H1361M1348.9 2856.3H1361M1348.9 2844.7H1361M1348.9 2834.5H1361M1336.2 2825.4H1361M1348.9 2765.4H1361M1348.9 2730.2H1361M1348.9 2705.3H1361M1348.9 2686H1361M1348.9 2670.2H1361M1348.9 2656.9H1361M1348.9 2645.3H1361M1348.9 2635.1H1361M1336.2 2626H1361M1348.9 2565.9H1361M1348.9 2530.8H1361M1348.9 2505.9H1361M1348.9 2486.6H1361M1348.9 2470.8H1361M1348.9 2457.4H1361M1348.9 2445.9H1361M1348.9 2435.7H1361M1336.2 2426.6H1361M1336.2 2545.2H1361M1336.2 2844.7H1361M1412.4 3024.8V3049.9M1530.3 3024.8V3049.9M1648.1 3024.8V3049.9M1766.1 3024.8V3049.9M1883.9 3024.8V3049.9M2001.8 3024.8V3049.9" fill="none" stroke="#000" stroke-width="3.9"/>
<text transform="translate(1331.1 3040.1) scale(0.9615 1)" font-size="44.1" text-anchor="end"><tspan letter-spacing="4.4">1</tspan>0<tspan font-size="30.5" dx="2.7" dy="-13">1</tspan></text>
<text transform="translate(1331.1 2840.6) scale(0.9615 1)" font-size="44.1" text-anchor="end"><tspan letter-spacing="4.4">1</tspan>0<tspan font-size="30.5" dx="2.7" dy="-13">2</tspan></text>
<text transform="translate(1331.1 2641.2) scale(0.9615 1)" font-size="44.1" text-anchor="end"><tspan letter-spacing="4.4">1</tspan>0<tspan font-size="30.5" dx="2.7" dy="-13">3</tspan></text>
<text transform="translate(1331.1 2441.8) scale(0.9615 1)" font-size="44.1" text-anchor="end"><tspan letter-spacing="4.4">1</tspan>0<tspan font-size="30.5" dx="2.7" dy="-13">4</tspan></text>
<text transform="translate(1228.2 2725.7) rotate(-90)" font-size="46.1" text-anchor="middle" textLength="505.5" lengthAdjust="spacingAndGlyphs">Pseudovirus neut EC50</text>
<text transform="translate(1427.4 3090.4) rotate(-45) scale(0.9950 1)" font-size="46.1" text-anchor="end">SARS1</text>
<text transform="translate(1545.3 3090.4) rotate(-45) scale(0.9950 1)" font-size="46.1" text-anchor="end">Wuhan</text>
<text transform="translate(1663.2 3090.4) rotate(-45) scale(0.9950 1)" font-size="46.1" text-anchor="end">Beta</text>
<text transform="translate(1781.1 3090.4) rotate(-45) scale(0.9950 1)" font-size="46.1" text-anchor="end">Delta</text>
<text transform="translate(1899 3090.4) rotate(-45) scale(0.9950 1)" font-size="46.1" text-anchor="end">BA.1</text>
<text transform="translate(2016.8 3090.4) rotate(-45) scale(0.9950 1)" font-size="46.1" text-anchor="end">BA.2</text>
<path d="M1413.9 2515.7 L1413.9 2485.6 L1541.8 2485.6 L1541.8 2515.7M1479.7 2485.6 L1479.7 2454.2 L1939 2454.2 L1939 2795.5M1874.4 2826.2 L1874.4 2795.5 L2002.3 2795.5 L2002.3 2826.2" fill="none" stroke="#000" stroke-width="4.1" stroke-linejoin="miter"/>
<text x="1704.4" y="2441.7" font-size="42.4" text-anchor="middle" font-family="'DejaVu Sans', sans-serif">*</text>
<text transform="translate(1707.2 2268.9) scale(0.9615 1)" font-size="60.2" text-anchor="middle">ACM1 2x10<tspan font-size="75%" dy="-0.57em">9</tspan><tspan dy="0.4275em">gc</tspan></text>
<text transform="translate(1707.2 2347.2) scale(0.9615 1)" font-size="60.2" text-anchor="middle">ACM-SARS1 10<tspan font-size="75%" dy="-0.57em">11</tspan><tspan dy="0.4275em">gc</tspan></text>
<text transform="translate(1118 2303.8) scale(0.9615 1)" font-size="90.5">G</text>
</g>
<g font-weight="bold">
<line x1="2402.8" y1="2537.8" x2="3108.3" y2="2537.8" stroke="#000" stroke-width="6.1" stroke-linecap="round" stroke-dasharray="0 18.2"/>
<line x1="2403.2" y1="2842.8" x2="3106.4" y2="2842.8" stroke="#000" stroke-width="3.8" stroke-linecap="round" stroke-dasharray="6.4 8.8"/>
<path d="M2419.3 3026V2906.9H2446.5V3026" fill="#fff" stroke="#000" stroke-width="3.9"/>
<path d="M2464.3 3026V2871.2H2491.5V3026" fill="#a2a1a6" stroke="#000" stroke-width="3.9"/>
<path d="M2538.9 3026V2689.8H2566.1V3026" fill="#fff" stroke="#000" stroke-width="3.9"/>
<path d="M2584 3026V2595.8H2611.2V3026" fill="#a2a1a6" stroke="#000" stroke-width="3.9"/>
<path d="M2658.6 3026V2660.9H2685.8V3026" fill="#fff" stroke="#000" stroke-width="3.9"/>
<path d="M2703.6 3026V2613H2730.8V3026" fill="#a2a1a6" stroke="#000" stroke-width="3.9"/>
<path d="M2778.3 3026V2793.7H2805.5V3026" fill="#fff" stroke="#000" stroke-width="3.9"/>
<path d="M2823.3 3026V2729.8H2850.6V3026" fill="#a2a1a6" stroke="#000" stroke-width="3.9"/>
<path d="M2897.9 3026V2758.1H2925.2V3026" fill="#fff" stroke="#000" stroke-width="3.9"/>
<path d="M2943 3026V2678.1H2970.2V3026" fill="#a2a1a6" stroke="#000" stroke-width="3.9"/>
<path d="M3017.6 3026V2632H3044.8V3026" fill="#fff" stroke="#000" stroke-width="3.9"/>
<path d="M3062.6 3026V2622.8H3089.9V3026" fill="#a2a1a6" stroke="#000" stroke-width="3.9"/>
<path d="M2477.9 2852.7V2886.5M2470.7 2852.7H2485.2M2470.7 2886.5H2485.2" fill="none" stroke="#000" stroke-width="3.9"/>
<path d="M2552.5 2651.6V2744.4M2545.3 2651.6H2559.8M2545.3 2744.4H2559.8" fill="none" stroke="#000" stroke-width="3.9"/>
<path d="M2597.6 2568V2630.1M2590.3 2568H2604.8M2590.3 2630.1H2604.8" fill="none" stroke="#000" stroke-width="3.9"/>
<path d="M2672.2 2608.6V2772.7M2664.9 2608.6H2679.4M2664.9 2772.7H2679.4" fill="none" stroke="#000" stroke-width="3.9"/>
<path d="M2717.2 2576V2667M2710 2576H2724.5M2710 2667H2724.5" fill="none" stroke="#000" stroke-width="3.9"/>
<path d="M2791.9 2764.7V2829.9M2784.6 2764.7H2799.1M2784.6 2829.9H2799.1" fill="none" stroke="#000" stroke-width="3.9"/>
<path d="M2836.9 2696.5V2772.7M2829.7 2696.5H2844.2M2829.7 2772.7H2844.2" fill="none" stroke="#000" stroke-width="3.9"/>
<path d="M2911.5 2716.8V2825.6M2904.3 2716.8H2918.8M2904.3 2825.6H2918.8" fill="none" stroke="#000" stroke-width="3.9"/>
<path d="M2956.6 2638.7V2737.7M2949.3 2638.7H2963.8M2949.3 2737.7H2963.8" fill="none" stroke="#000" stroke-width="3.9"/>
<path d="M3031.2 2591.3V2692.2M3023.9 2591.3H3038.4M3023.9 2692.2H3038.4" fill="none" stroke="#000" stroke-width="3.9"/>
<path d="M3076.2 2579V2696.5M3069 2579H3083.5M3069 2696.5H3083.5" fill="none" stroke="#000" stroke-width="3.9"/>
<path d="M2402.8 2416.6V3026M2377.7 3026H3108.3M2390.6 2965.1H2402.8M2390.6 2929.4H2402.8M2390.6 2904.1H2402.8M2390.6 2884.5H2402.8M2390.6 2868.5H2402.8M2390.6 2854.9H2402.8M2390.6 2843.2H2402.8M2390.6 2832.8H2402.8M2377.7 2823.5H2402.8M2390.6 2762.6H2402.8M2390.6 2726.9H2402.8M2390.6 2701.6H2402.8M2390.6 2682H2402.8M2390.6 2666H2402.8M2390.6 2652.4H2402.8M2390.6 2640.7H2402.8M2390.6 2630.3H2402.8M2377.7 2621.1H2402.8M2390.6 2560.1H2402.8M2390.6 2524.4H2402.8M2390.6 2499.1H2402.8M2390.6 2479.5H2402.8M2390.6 2463.5H2402.8M2390.6 2449.9H2402.8M2390.6 2438.2H2402.8M2390.6 2427.8H2402.8M2377.7 2418.6H2402.8M2377.7 2537.8H2402.8M2377.7 2842.8H2402.8M2455.4 3026V3051.5M2575.1 3026V3051.5M2694.7 3026V3051.5M2814.4 3026V3051.5M2934.1 3026V3051.5M3053.7 3026V3051.5" fill="none" stroke="#000" stroke-width="3.9"/>
<text transform="translate(2372.5 3041.5) scale(0.9615 1)" font-size="44.8" text-anchor="end"><tspan letter-spacing="4.5">1</tspan>0<tspan font-size="30.9" dx="2.7" dy="-13.2">1</tspan></text>
<text transform="translate(2372.5 2839) scale(0.9615 1)" font-size="44.8" text-anchor="end"><tspan letter-spacing="4.5">1</tspan>0<tspan font-size="30.9" dx="2.7" dy="-13.2">2</tspan></text>
<text transform="translate(2372.5 2636.5) scale(0.9615 1)" font-size="44.8" text-anchor="end"><tspan letter-spacing="4.5">1</tspan>0<tspan font-size="30.9" dx="2.7" dy="-13.2">3</tspan></text>
<text transform="translate(2372.5 2434) scale(0.9615 1)" font-size="44.8" text-anchor="end"><tspan letter-spacing="4.5">1</tspan>0<tspan font-size="30.9" dx="2.7" dy="-13.2">4</tspan></text>
<text transform="translate(2268 2722.3) rotate(-90)" font-size="46.8" text-anchor="middle" textLength="513.1" lengthAdjust="spacingAndGlyphs">Pseudovirus neut EC50</text>
<text transform="translate(2470.7 3092.6) rotate(-45) scale(0.9950 1)" font-size="46.8" text-anchor="end">SARS1</text>
<text transform="translate(2590.3 3092.6) rotate(-45) scale(0.9950 1)" font-size="46.8" text-anchor="end">Wuhan</text>
<text transform="translate(2710 3092.6) rotate(-45) scale(0.9950 1)" font-size="46.8" text-anchor="end">Beta</text>
<text transform="translate(2829.7 3092.6) rotate(-45) scale(0.9950 1)" font-size="46.8" text-anchor="end">Delta</text>
<text transform="translate(2949.3 3092.6) rotate(-45) scale(0.9950 1)" font-size="46.8" text-anchor="end">BA.1</text>
<text transform="translate(3069 3092.6) rotate(-45) scale(0.9950 1)" font-size="46.8" text-anchor="end">BA.2</text>
<text transform="translate(2753.9 2258.9) scale(0.9615 1)" font-size="61.1" text-anchor="middle">ACM1 2x10<tspan font-size="75%" dy="-0.57em">9</tspan><tspan dy="0.4275em">gc</tspan></text>
<text transform="translate(2753.9 2338.3) scale(0.9615 1)" font-size="61.1" text-anchor="middle">ACM-BA.2 10<tspan font-size="75%" dy="-0.57em">11</tspan><tspan dy="0.4275em">gc</tspan></text>
<text transform="translate(2214.5 2303.8) scale(0.9615 1)" font-size="90.5">H</text>
</g>
<g font-weight="bold">
<line x1="3509.9" y1="2536.6" x2="4215.7" y2="2536.6" stroke="#000" stroke-width="6.1" stroke-linecap="round" stroke-dasharray="0 18.2"/>
<line x1="3510.3" y1="2841.6" x2="4213.8" y2="2841.6" stroke="#000" stroke-width="3.8" stroke-linecap="round" stroke-dasharray="6.4 8.8"/>
<path d="M3526.9 3024.8V2716.3H3554.1V3024.8" fill="#fff" stroke="#000" stroke-width="3.9"/>
<path d="M3571.9 3024.8V2630.8H3599.1V3024.8" fill="#a2a1a6" stroke="#000" stroke-width="3.9"/>
<path d="M3646.5 3024.8V2601.3H3673.7V3024.8" fill="#fff" stroke="#000" stroke-width="3.9"/>
<path d="M3691.5 3024.8V2558.9H3718.7V3024.8" fill="#a2a1a6" stroke="#000" stroke-width="3.9"/>
<path d="M3766 3024.8V2609.9H3793.2V3024.8" fill="#fff" stroke="#000" stroke-width="3.9"/>
<path d="M3811 3024.8V2595.8H3838.2V3024.8" fill="#a2a1a6" stroke="#000" stroke-width="3.9"/>
<path d="M3885.6 3024.8V2624.7H3912.8V3024.8" fill="#fff" stroke="#000" stroke-width="3.9"/>
<path d="M3930.6 3024.8V2619.7H3957.8V3024.8" fill="#a2a1a6" stroke="#000" stroke-width="3.9"/>
<path d="M4005.1 3024.8V2798H4032.3V3024.8" fill="#fff" stroke="#000" stroke-width="3.9"/>
<path d="M4050.1 3024.8V2665.2H4077.3V3024.8" fill="#a2a1a6" stroke="#000" stroke-width="3.9"/>
<path d="M4124.7 3024.8V2697.8H4151.9V3024.8" fill="#fff" stroke="#000" stroke-width="3.9"/>
<path d="M4169.7 3024.8V2595.8H4196.9V3024.8" fill="#a2a1a6" stroke="#000" stroke-width="3.9"/>
<path d="M3540.5 2667V2818.8M3533.3 2667H3547.7M3533.3 2818.8H3547.7" fill="none" stroke="#000" stroke-width="3.9"/>
<path d="M3585.5 2591.3V2691.6M3578.3 2591.3H3592.7M3578.3 2691.6H3592.7" fill="none" stroke="#000" stroke-width="3.9"/>
<path d="M3705.1 2543.4V2571.7M3697.8 2543.4H3712.3M3697.8 2571.7H3712.3" fill="none" stroke="#000" stroke-width="3.9"/>
<path d="M3779.6 2578.4V2646.7M3772.4 2578.4H3786.9M3772.4 2646.7H3786.9" fill="none" stroke="#000" stroke-width="3.9"/>
<path d="M3824.6 2572.3V2620.2M3817.4 2572.3H3831.9M3817.4 2620.2H3831.9" fill="none" stroke="#000" stroke-width="3.9"/>
<path d="M3899.2 2588.3V2674.3M3892 2588.3H3906.4M3892 2674.3H3906.4" fill="none" stroke="#000" stroke-width="3.9"/>
<path d="M3944.2 2586.4V2664.5M3937 2586.4H3951.4M3937 2664.5H3951.4" fill="none" stroke="#000" stroke-width="3.9"/>
<path d="M4018.7 2780.7V2812.7M4011.5 2780.7H4026M4011.5 2812.7H4026" fill="none" stroke="#000" stroke-width="3.9"/>
<path d="M4063.7 2629.5V2713.7M4056.5 2629.5H4071M4056.5 2713.7H4071" fill="none" stroke="#000" stroke-width="3.9"/>
<path d="M4138.3 2658.4V2759.8M4131.1 2658.4H4145.6M4131.1 2759.8H4145.6" fill="none" stroke="#000" stroke-width="3.9"/>
<path d="M4183.3 2564.3V2636.2M4176.1 2564.3H4190.6M4176.1 2636.2H4190.6" fill="none" stroke="#000" stroke-width="3.9"/>
<path d="M3509.9 2414.8V3024.8M3484.7 3024.8H4215.7M3497.6 2963.8H3509.9M3497.6 2928.1H3509.9M3497.6 2902.8H3509.9M3497.6 2883.1H3509.9M3497.6 2867.1H3509.9M3497.6 2853.5H3509.9M3497.6 2841.8H3509.9M3497.6 2831.4H3509.9M3484.7 2822.1H3509.9M3497.6 2761.1H3509.9M3497.6 2725.4H3509.9M3497.6 2700.1H3509.9M3497.6 2680.4H3509.9M3497.6 2664.4H3509.9M3497.6 2650.8H3509.9M3497.6 2639.1H3509.9M3497.6 2628.7H3509.9M3484.7 2619.4H3509.9M3497.6 2558.4H3509.9M3497.6 2522.7H3509.9M3497.6 2497.4H3509.9M3497.6 2477.7H3509.9M3497.6 2461.7H3509.9M3497.6 2448.1H3509.9M3497.6 2436.4H3509.9M3497.6 2426H3509.9M3484.7 2416.7H3509.9M3484.7 2536.6H3509.9M3484.7 2841.6H3509.9M3563 3024.8V3050.2M3682.6 3024.8V3050.2M3802.1 3024.8V3050.2M3921.7 3024.8V3050.2M4041.2 3024.8V3050.2M4160.8 3024.8V3050.2" fill="none" stroke="#000" stroke-width="3.9"/>
<text transform="translate(3479.5 3040.3) scale(0.9615 1)" font-size="44.8" text-anchor="end"><tspan letter-spacing="4.5">1</tspan>0<tspan font-size="30.9" dx="2.7" dy="-13.2">1</tspan></text>
<text transform="translate(3479.5 2837.6) scale(0.9615 1)" font-size="44.8" text-anchor="end"><tspan letter-spacing="4.5">1</tspan>0<tspan font-size="30.9" dx="2.7" dy="-13.2">2</tspan></text>
<text transform="translate(3479.5 2634.9) scale(0.9615 1)" font-size="44.8" text-anchor="end"><tspan letter-spacing="4.5">1</tspan>0<tspan font-size="30.9" dx="2.7" dy="-13.2">3</tspan></text>
<text transform="translate(3479.5 2432.2) scale(0.9615 1)" font-size="44.8" text-anchor="end"><tspan letter-spacing="4.5">1</tspan>0<tspan font-size="30.9" dx="2.7" dy="-13.2">4</tspan></text>
<text transform="translate(3375.1 2720.8) rotate(-90)" font-size="46.8" text-anchor="middle" textLength="512.7" lengthAdjust="spacingAndGlyphs">Pseudovirus neut EC50</text>
<text transform="translate(3578.3 3091.3) rotate(-45) scale(0.9950 1)" font-size="46.8" text-anchor="end">SARS1</text>
<text transform="translate(3697.8 3091.3) rotate(-45) scale(0.9950 1)" font-size="46.8" text-anchor="end">Wuhan</text>
<text transform="translate(3817.4 3091.3) rotate(-45) scale(0.9950 1)" font-size="46.8" text-anchor="end">Beta</text>
<text transform="translate(3937 3091.3) rotate(-45) scale(0.9950 1)" font-size="46.8" text-anchor="end">Delta</text>
<text transform="translate(4056.5 3091.3) rotate(-45) scale(0.9950 1)" font-size="46.8" text-anchor="end">BA.1</text>
<text transform="translate(4176.1 3091.3) rotate(-45) scale(0.9950 1)" font-size="46.8" text-anchor="end">BA.2</text>
<text transform="translate(3862.2 2258.9) scale(0.9615 1)" font-size="61.1" text-anchor="middle">ACM1 2x10<tspan font-size="75%" dy="-0.57em">9</tspan><tspan dy="0.4275em">gc</tspan></text>
<text transform="translate(3862.2 2338.3) scale(0.9615 1)" font-size="61.1" text-anchor="middle">ACM-B2S 10<tspan font-size="75%" dy="-0.57em">11</tspan><tspan dy="0.4275em">gc</tspan></text>
<text transform="translate(3275.8 2303.8) scale(0.9615 1)" font-size="90.5">I</text>
</g>
<g>
<rect x="1304.7" y="3297.2" width="109" height="52.7" fill="#fff" stroke="#000" stroke-width="5"/>
<rect x="2331.2" y="3292.5" width="109.6" height="51.9" fill="#a2a1a6" stroke="#000" stroke-width="5"/>
<text x="1480" y="3352.4" font-size="86" textLength="711" lengthAdjust="spacingAndGlyphs">Day 28 post boost</text>
<text x="2506" y="3347.8" font-size="86" textLength="711.4" lengthAdjust="spacingAndGlyphs">Day 56 post boost</text>
</g>
</svg>
</body></html>
